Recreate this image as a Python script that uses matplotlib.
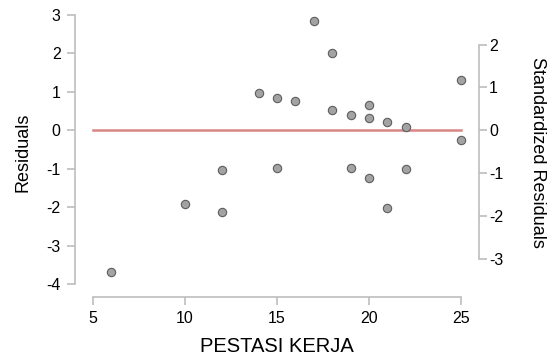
import matplotlib
matplotlib.use('Agg')
import matplotlib.pyplot as plt

# ── Data ────────────────────────────────────────────────────────────────────
pestasi = [6, 10, 12, 12, 14, 15, 15, 16, 17, 18, 18, 19, 19, 20, 20, 20,
           21, 21, 22, 22, 25, 25]
residuals = [-3.69, -1.92, -2.12, -1.04, 0.96, 0.85, -0.98, 0.75, 2.85, 2.00,
             0.52, 0.41, -0.98, 0.67, 0.31, -1.24, 0.21, -2.02, 0.08, -1.01,
             1.32, -0.24]
x_ticks = [5, 10, 15, 20, 25]
y_ticks = [-4, -3, -2, -1, 0, 1, 2, 3]
y2_ticks = [-3, -2, -1, 0, 1, 2]
sd_scale = 1.114   # residual units per standardized unit

SPINE = "#BDBDBD"
plt.rcParams['font.family'] = ['Liberation Sans', 'DejaVu Sans']
plt.rcParams['axes.unicode_minus'] = False

W, H = 555, 358
fig = plt.figure(figsize=(W / 100, H / 100), dpi=100)
# axes box in pixels: x 74.6..479.4, y (from top) 7..297
l, r, t, b = 74.6, 479.4, 7, 297
ax = fig.add_axes([l / W, 1 - b / H, (r - l) / W, (b - t) / H])
ax.patch.set_alpha(0)

ylo, yhi = -4.337, 3.207
ax.set_xlim(4, 26)
ax.set_ylim(ylo, yhi)

ax.plot([5, 25], [0, 0], color="#D98585", lw=1.8, zorder=2)
ax.scatter(pestasi, residuals, s=36, facecolor="#A3A3A3",
           edgecolor="#5E5E5E", linewidth=0.8, zorder=3)

for side in ['top', 'right']:
    ax.spines[side].set_visible(False)
ax.spines['left'].set_bounds(-4, 3)
ax.spines['bottom'].set_bounds(5, 25)
for side in ['left', 'bottom']:
    ax.spines[side].set_color(SPINE)
    ax.spines[side].set_linewidth(1.2)
ax.set_xticks(x_ticks)
ax.set_yticks(y_ticks)
ax.tick_params(colors=SPINE, labelcolor='black', labelsize=11.5,
               length=6, width=1.2, pad=4)
ax.set_xlabel("PESTASI KERJA", fontsize=14.5, labelpad=8)
ax.set_ylabel("Residuals", fontsize=13, labelpad=11)

ax2 = ax.twinx()
ax2.set_position(ax.get_position())
ax2.set_ylim(ylo / sd_scale, yhi / sd_scale)
for side in ['top', 'left', 'bottom']:
    ax2.spines[side].set_visible(False)
ax2.spines['right'].set_bounds(-3, 2)
ax2.spines['right'].set_color(SPINE)
ax2.spines['right'].set_linewidth(1.2)
ax2.set_yticks(y2_ticks)
ax2.tick_params(colors=SPINE, labelcolor='black', labelsize=11.5,
                length=6, width=1.2, pad=1)
ax2.set_ylabel("Standardized Residuals", fontsize=13, rotation=270,
               labelpad=31)

fig.savefig("out.png", dpi=100)
